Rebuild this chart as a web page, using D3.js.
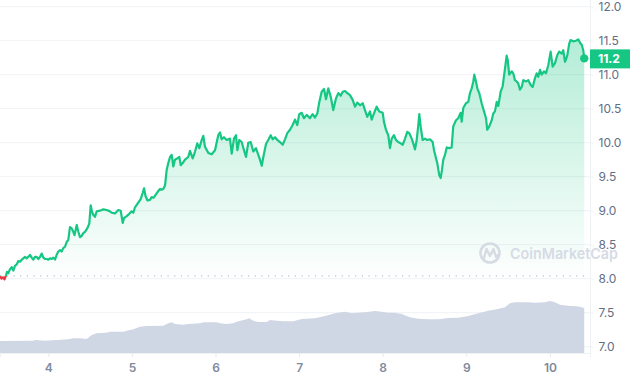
<!DOCTYPE html>
<html>
<head>
<meta charset="utf-8">
<script src="https://cdn.jsdelivr.net/npm/d3@7"></script>
<style>
    body { margin: 0; background: #fff; }
    svg { display: block; font-family: Inter, "Noto Sans", sans-serif; }
</style>
</head>
<body>
<div id="chart"></div>
<script>
// price series (day of month, USD)
var days = [3.422,3.440,3.458,3.476,3.494,3.506,3.521,3.542,3.562,3.581,
    3.601,3.622,3.641,3.661,3.682,3.701,3.721,3.741,3.760,3.781,
    3.801,3.820,3.841,3.861,3.880,3.900,3.921,3.940,3.960,3.981,
    4.000,4.020,4.040,4.060,4.080,4.100,4.119,4.140,4.160,4.179,
    4.200,4.220,4.239,4.259,4.280,4.299,4.313,4.340,4.359,4.379,
    4.399,4.418,4.439,4.466,4.490,4.507,4.523,4.538,4.558,4.579,
    4.618,4.658,4.698,4.738,4.758,4.798,4.837,4.866,4.890,4.905,
    4.938,4.965,4.997,5.017,5.037,5.076,5.105,5.129,5.145,5.162,
    5.186,5.216,5.237,5.258,5.288,5.316,5.336,5.356,5.375,5.396,
    5.416,5.435,5.456,5.476,5.495,5.515,5.543,5.567,5.584,5.608,
    5.635,5.674,5.695,5.727,5.755,5.782,5.806,5.835,5.854,5.874,
    5.914,5.954,5.994,6.033,6.054,6.074,6.101,6.134,6.173,6.194,
    6.221,6.245,6.261,6.285,6.313,6.341,6.365,6.392,6.421,6.452,
    6.484,6.512,6.532,6.553,6.572,6.604,6.631,6.660,6.684,6.712,
    6.739,6.771,6.804,6.831,6.859,6.891,6.923,6.951,6.978,7.002,
    7.031,7.058,7.091,7.130,7.162,7.190,7.218,7.242,7.270,7.298,
    7.322,7.349,7.378,7.409,7.441,7.469,7.498,7.522,7.549,7.577,
    7.609,7.641,7.669,7.696,7.728,7.761,7.788,7.816,7.848,7.868,
    7.896,7.928,7.959,8.000,8.015,8.039,8.067,8.087,8.108,8.135,
    8.159,8.186,8.215,8.239,8.267,8.294,8.318,8.347,8.366,8.386,
    8.407,8.426,8.438,8.454,8.478,8.506,8.533,8.566,8.598,8.614,
    8.638,8.653,8.677,8.694,8.709,8.725,8.745,8.766,8.797,8.825,
    8.844,8.877,8.904,8.933,8.945,8.964,8.996,9.024,9.044,9.065,
    9.084,9.096,9.116,9.132,9.155,9.184,9.212,9.236,9.251,9.275,
    9.304,9.323,9.343,9.364,9.383,9.395,9.411,9.435,9.451,9.463,
    9.483,9.495,9.514,9.543,9.562,9.582,9.603,9.622,9.642,9.663,
    9.682,9.714,9.742,9.770,9.794,9.822,9.842,9.861,9.882,9.902,
    9.929,9.953,9.981,10.009,10.033,10.061,10.089,10.112,10.141,10.160,
    10.181,10.208,10.232,10.249,10.280,10.312,10.340,10.360,10.381,10.399,
    10.411];

var prices = [8.04,8.00,8.02,7.99,8.05,8.10,8.08,8.14,8.17,8.12,
    8.19,8.21,8.26,8.25,8.28,8.30,8.32,8.30,8.32,8.35,
    8.31,8.28,8.32,8.32,8.29,8.32,8.37,8.31,8.29,8.29,
    8.28,8.30,8.29,8.31,8.28,8.35,8.40,8.42,8.40,8.45,
    8.47,8.54,8.57,8.76,8.74,8.69,8.64,8.79,8.69,8.61,
    8.63,8.67,8.69,8.74,8.81,9.08,8.98,8.94,8.91,8.99,
    9.00,9.02,9.01,8.99,8.97,8.96,9.01,9.00,8.82,8.89,
    8.92,8.95,8.99,8.97,9.05,9.12,9.17,9.26,9.33,9.22,
    9.15,9.16,9.20,9.19,9.24,9.29,9.32,9.31,9.32,9.37,
    9.60,9.70,9.79,9.82,9.65,9.75,9.77,9.79,9.67,9.70,
    9.75,9.79,9.88,9.77,9.87,9.99,9.92,10.04,10.10,9.94,
    9.85,9.83,9.89,10.11,10.15,10.05,10.08,10.04,10.06,9.84,
    10.06,10.11,9.89,10.04,10.01,9.89,9.79,10.00,10.01,9.87,
    9.92,9.82,9.75,9.66,9.79,9.98,10.04,10.11,10.05,10.08,
    10.04,10.01,9.97,10.05,10.14,10.19,10.26,10.34,10.26,10.42,
    10.44,10.36,10.41,10.36,10.42,10.37,10.43,10.60,10.75,10.79,
    10.64,10.80,10.68,10.48,10.65,10.73,10.69,10.75,10.76,10.73,
    10.70,10.63,10.53,10.59,10.55,10.58,10.48,10.38,10.46,10.34,
    10.43,10.53,10.46,10.44,10.31,10.19,10.11,9.92,10.06,10.11,
    10.04,10.01,9.99,9.97,10.06,10.16,10.14,10.06,9.99,9.90,
    10.04,10.26,10.42,10.24,10.04,10.06,10.04,10.05,10.01,9.89,
    9.77,9.70,9.52,9.48,9.60,9.75,9.82,9.93,9.92,9.93,
    10.24,10.33,10.36,10.44,10.31,10.51,10.58,10.60,10.73,10.80,
    10.90,11.00,10.90,10.80,10.73,10.58,10.46,10.36,10.19,10.24,
    10.33,10.43,10.46,10.60,10.54,10.63,10.75,10.83,10.98,11.09,
    11.28,11.22,11.00,11.05,11.02,10.92,10.90,10.87,10.78,10.82,
    10.92,10.90,10.92,10.85,10.82,10.95,11.02,10.97,11.07,11.00,
    11.05,11.02,11.14,11.34,11.12,11.17,11.29,11.34,11.31,11.36,
    11.19,11.28,11.46,11.51,11.49,11.50,11.52,11.47,11.44,11.36,
    11.24];

// volume series (day of month, millions)
var volDays = [3.422,3.820,3.841,3.960,4.100,4.239,4.299,4.379,4.459,4.519,
    4.579,4.698,4.738,4.897,4.938,5.017,5.097,5.177,5.375,5.435,
    5.476,5.515,5.615,5.674,5.814,5.854,6.014,6.054,6.134,6.213,
    6.253,6.373,6.404,6.452,6.512,6.612,6.652,6.732,6.811,6.930,
    7.031,7.190,7.310,7.429,7.549,7.629,7.788,7.908,7.988,8.067,
    8.147,8.227,8.326,8.426,8.545,8.665,8.785,8.904,9.024,9.143,
    9.263,9.364,9.463,9.523,9.582,9.742,9.822,9.941,10.001,10.061,
    10.121,10.220,10.320,10.381,10.411];
var volumes = [120,123,130,123,130,137,147,147,140,180,
    197,203,213,213,223,237,263,270,273,297,
    307,290,283,290,297,307,307,297,290,297,
    313,337,347,323,310,310,330,323,317,317,
    340,347,370,397,413,397,407,420,413,403,
    403,390,357,343,337,337,350,353,370,397,
    423,437,457,497,507,507,503,507,520,507,
    483,473,467,457,450];

var openPrice = 8.04;
var lastLabel = "11.2";
var yTicks = [7.0, 7.5, 8.0, 8.5, 9.0, 9.5, 10.0, 10.5, 11.0, 11.5, 12.0];
var xTicks = [4, 5, 6, 7, 8, 9, 10];

function init() {
    var width = 630, height = 380;
    var plotRight = 590;
    var axisY = 353;

    var green = "#16c784", red = "#ea3943";

    var data = days.map(function (d, i) { return { day: d, price: prices[i] }; });
    var volData = volDays.map(function (d, i) { return { day: d, vol: volumes[i] }; });

    var svg = d3.select("#chart")
        .append("svg")
        .attr("width", width)
        .attr("height", height);

    var x = d3.scaleLinear().domain([3.422, 10.48]).range([0, plotRight]);
    var y = d3.scaleLinear().domain([7, 12]).range([346.7, 6.7]);
    var yVol = d3.scaleLinear().domain([0, 700]).range([axisY, axisY - 70]);

    var baseY = y(openPrice);

    var defs = svg.append("defs");
    var grad = defs.append("linearGradient")
        .attr("id", "fillGreen")
        .attr("gradientUnits", "userSpaceOnUse")
        .attr("x1", 0).attr("x2", 0)
        .attr("y1", y(11.5)).attr("y2", baseY);
    grad.append("stop").attr("offset", "0%").attr("stop-color", green).attr("stop-opacity", 0.32);
    grad.append("stop").attr("offset", "100%").attr("stop-color", green).attr("stop-opacity", 0.01);

    defs.append("clipPath").attr("id", "above")
        .append("rect").attr("x", 0).attr("y", 0).attr("width", width).attr("height", baseY);
    defs.append("clipPath").attr("id", "below")
        .append("rect").attr("x", 0).attr("y", baseY).attr("width", width).attr("height", height - baseY);

    // grid lines
    svg.append("g")
        .selectAll("line")
        .data(yTicks)
        .enter()
        .append("line")
        .attr("x1", 0).attr("x2", plotRight)
        .attr("y1", function (d) { return y(d); })
        .attr("y2", function (d) { return y(d); })
        .attr("stroke", "#eff2f5")
        .attr("stroke-width", 1);

    // volume
    var volArea = d3.area()
        .x(function (d) { return x(d.day); })
        .y0(axisY)
        .y1(function (d) { return yVol(d.vol); });
    svg.append("path")
        .datum(volData)
        .attr("d", volArea)
        .attr("fill", "#cfd6e4");

    // price area and line
    var area = d3.area()
        .x(function (d) { return x(d.day); })
        .y0(baseY)
        .y1(function (d) { return y(d.price); });
    var line = d3.line()
        .x(function (d) { return x(d.day); })
        .y(function (d) { return y(d.price); });

    svg.append("path").datum(data)
        .attr("d", area)
        .attr("clip-path", "url(#above)")
        .attr("fill", "url(#fillGreen)");
    svg.append("path").datum(data)
        .attr("d", area)
        .attr("clip-path", "url(#below)")
        .attr("fill", red)
        .attr("fill-opacity", 0.15);

    // open price dotted line
    svg.append("line")
        .attr("x1", 0).attr("x2", x(days[days.length - 1]))
        .attr("y1", baseY).attr("y2", baseY)
        .attr("stroke", "#a6b0c3")
        .attr("stroke-width", 1.2)
        .attr("stroke-dasharray", "1.2,5.5");

    svg.append("path").datum(data)
        .attr("d", line)
        .attr("clip-path", "url(#above)")
        .attr("fill", "none")
        .attr("stroke", green)
        .attr("stroke-width", 2.2)
        .attr("stroke-linejoin", "round");
    svg.append("path").datum(data)
        .attr("d", line)
        .attr("clip-path", "url(#below)")
        .attr("fill", "none")
        .attr("stroke", red)
        .attr("stroke-width", 2.2)
        .attr("stroke-linejoin", "round");

    // watermark
    var wm = svg.append("g").attr("opacity", 0.9);
    wm.append("circle")
        .attr("cx", 490).attr("cy", 253).attr("r", 9.5)
        .attr("fill", "none").attr("stroke", "#d3d8e2").attr("stroke-width", 2.6);
    wm.append("path")
        .attr("d", "M484,258 L486.5,249 L490,256 L493.5,249 L496,257 L498,255")
        .attr("fill", "none").attr("stroke", "#d3d8e2").attr("stroke-width", 2.4)
        .attr("stroke-linejoin", "round").attr("stroke-linecap", "round");
    wm.append("text")
        .attr("x", 510).attr("y", 259)
        .attr("font-size", 15)
        .attr("font-weight", 600)
        .attr("textLength", 108)
        .attr("lengthAdjust", "spacingAndGlyphs")
        .attr("fill", "#d3d8e2")
        .text("CoinMarketCap");

    // right axis
    svg.append("line")
        .attr("x1", plotRight + 0.5).attr("x2", plotRight + 0.5)
        .attr("y1", 0).attr("y2", axisY + 2)
        .attr("stroke", "#eff2f5");
    var yAxis = svg.append("g")
        .attr("transform", "translate(" + (plotRight + 0.5) + ",0)")
        .call(d3.axisRight(y).tickValues(yTicks).tickSize(3).tickPadding(5)
            .tickFormat(d3.format(".1f")));
    yAxis.select(".domain").remove();
    yAxis.selectAll(".tick line").attr("stroke", "#eff2f5");
    yAxis.selectAll(".tick text")
        .attr("fill", "#616e85")
        .attr("font-size", 12)
        .attr("font-family", "Inter, 'Noto Sans', sans-serif");

    // bottom axis
    var xAxis = svg.append("g")
        .attr("transform", "translate(0," + axisY + ")")
        .call(d3.axisBottom(x).tickValues(xTicks).tickSize(4).tickPadding(6)
            .tickFormat(d3.format("d")));
    xAxis.select(".domain").attr("stroke", "#eff2f5");
    xAxis.selectAll(".tick line").attr("stroke", "#e6e9ef");
    xAxis.selectAll(".tick text")
        .attr("fill", "#808a9d")
        .attr("font-size", 12)
        .attr("font-weight", 600)
        .attr("font-family", "Inter, 'Noto Sans', sans-serif");

    // last price marker and label
    var last = data[data.length - 1];
    svg.append("circle")
        .attr("cx", x(last.day)).attr("cy", y(last.price))
        .attr("r", 4.2)
        .attr("fill", green);
    var ly = y(last.price);
    svg.append("rect")
        .attr("x", plotRight).attr("y", ly - 9)
        .attr("width", width - plotRight).attr("height", 19)
        .attr("fill", green);
    svg.append("text")
        .attr("x", plotRight + 8).attr("y", ly + 0.5)
        .attr("dy", "0.35em")
        .attr("font-size", 12)
        .attr("font-weight", 700)
        .attr("fill", "#fff")
        .text(lastLabel);
}

window.onload = init;
</script>
</body>
</html>
